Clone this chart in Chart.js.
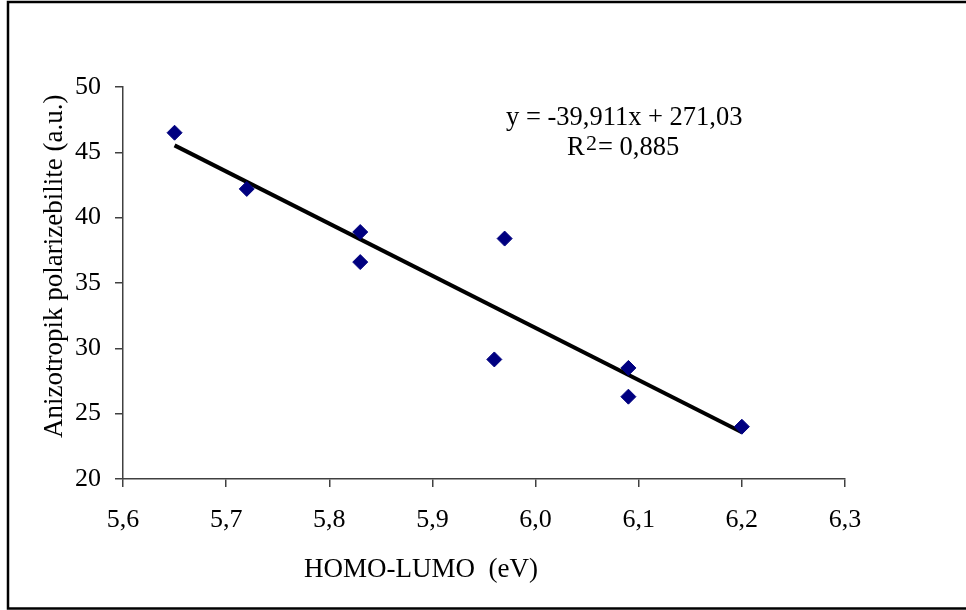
<!DOCTYPE html>
<html>
<head>
<meta charset="utf-8">
<script src="https://cdn.jsdelivr.net/npm/chart.js@4.4.1/dist/chart.umd.min.js"></script>
<style>
  body { margin: 0; background: #fff; }
  canvas { display: block; }
</style>
</head>
<body>
<canvas id="myChart" width="966" height="610"></canvas>
<script>
// data
const gapValues = [5.65, 5.72, 5.83, 5.83, 5.97, 5.96, 6.09, 6.09, 6.20]
const polarValues = [46.5, 42.2, 38.9, 36.6, 38.4, 29.15, 28.5, 26.3, 24.0]
const xTicks = [5.6, 5.7, 5.8, 5.9, 6.0, 6.1, 6.2, 6.3]
const yTicks = [20, 25, 30, 35, 40, 45, 50]
// trend line as printed on the chart
const slope = -39.911
const intercept = 271.03
const trendFrom = 5.65
const trendTo = 6.20

const serif = '"Liberation Serif", "Times New Roman", serif'

let points = []
for (let i = 0; i < gapValues.length; i++) {
    points.push({ x: gapValues[i], y: polarValues[i] })
}
let trend = [
    { x: trendFrom, y: slope * trendFrom + intercept },
    { x: trendTo, y: slope * trendTo + intercept }
]

const extras = {
    id: 'extras',
    afterDraw(chart) {
        const ctx = chart.ctx
        ctx.save()
        // outer frame
        ctx.strokeStyle = '#000'
        ctx.lineWidth = 2.5
        ctx.strokeRect(8, 2, 980, 606.5)

        ctx.fillStyle = '#000'
        ctx.textBaseline = 'alphabetic'
        ctx.font = '27px ' + serif
        ctx.textAlign = 'left'
        ctx.fillText('HOMO-LUMO  (eV)', 304, 577)

        ctx.save()
        ctx.translate(62, 438)
        ctx.rotate(-Math.PI / 2)
        ctx.fillText('Anizotropik polarizebilite (a.u.)', 0, 0)
        ctx.restore()

        // equation
        ctx.font = '26.5px ' + serif
        ctx.fillText('y = -39,911x + 271,03', 506, 125)
        ctx.fillText('R', 567, 155)
        ctx.font = '22px ' + serif
        ctx.fillText('2', 586, 150)
        ctx.font = '26.5px ' + serif
        ctx.fillText('= 0,885', 598, 155)
        ctx.restore()
    }
}

const fmt = v => v.toFixed(1).replace('.', ',')

new Chart(document.getElementById('myChart'), {
    type: 'scatter',
    data: {
        datasets: [{
            label: 'points',
            data: points,
            pointStyle: 'rectRot',
            pointRadius: 7.5,
            pointHoverRadius: 7.5,
            backgroundColor: '#000080',
            borderColor: '#000080',
            borderWidth: 1,
            order: 1
        }, {
            type: 'line',
            label: 'trend',
            data: trend,
            borderColor: '#000',
            borderWidth: 4,
            pointRadius: 0,
            fill: false,
            order: 2
        }]
    },
    options: {
        responsive: false,
        animation: false,
        devicePixelRatio: 1,
        layout: { padding: { left: 0, top: 87, right: 121, bottom: 0 } },
        plugins: {
            legend: { display: false },
            tooltip: { enabled: false }
        },
        scales: {
            x: {
                type: 'linear',
                min: 5.6,
                max: 6.3,
                afterBuildTicks: s => { s.ticks = xTicks.map(v => ({ value: v })) },
                afterFit: s => { s.height = 131 },
                ticks: {
                    font: { family: serif, size: 26 },
                    color: '#000',
                    padding: 18,
                    maxRotation: 0,
                    callback: v => fmt(v)
                },
                grid: { drawOnChartArea: false, tickLength: 8, color: '#404040', lineWidth: 1.5 },
                border: { color: '#404040', width: 1.5 }
            },
            y: {
                min: 20,
                max: 50,
                afterBuildTicks: s => { s.ticks = yTicks.map(v => ({ value: v })) },
                afterFit: s => { s.width = 123 },
                ticks: {
                    font: { family: serif, size: 26 },
                    color: '#000',
                    padding: 14
                },
                grid: { drawOnChartArea: false, tickLength: 8, color: '#404040', lineWidth: 1.5 },
                border: { color: '#404040', width: 1.5 }
            }
        }
    },
    plugins: [extras]
})
</script>
</body>
</html>
